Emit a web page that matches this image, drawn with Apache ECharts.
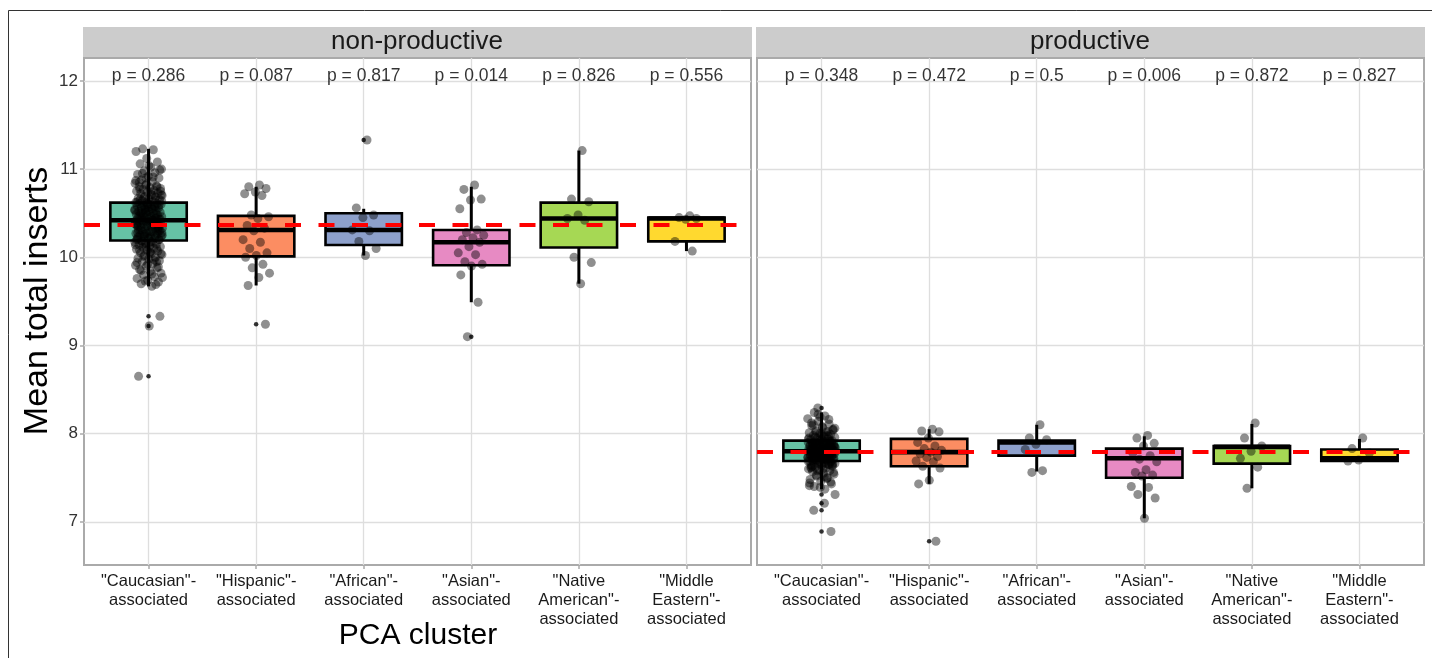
<!DOCTYPE html>
<html>
<head>
<meta charset="utf-8">
<script src="https://cdn.jsdelivr.net/npm/echarts@6/dist/echarts.min.js"></script>
<style>
  html, body { margin: 0; padding: 0; background: #ffffff; }
  #chart { width: 1432px; height: 658px; }
</style>
</head>
<body>
<div id="chart"></div>
<script>
// PCA clusters shown along the x axis of both facets
const categories = [
  '"Caucasian"-\nassociated',
  '"Hispanic"-\nassociated',
  '"African"-\nassociated',
  '"Asian"-\nassociated',
  '"Native\nAmerican"-\nassociated',
  '"Middle\nEastern"-\nassociated'
];
const facets = ['non-productive', 'productive'];
const yTicks = [7, 8, 9, 10, 11, 12];
const boxColors = ['#66C2A5', '#FC8D62', '#8DA0CB', '#E78AC3', '#A6D854', '#FFD92F'];

// p-values per cluster
const pNonProductive = [0.286, 0.087, 0.817, 0.014, 0.826, 0.556];
const pProductive = [0.348, 0.472, 0.5, 0.006, 0.872, 0.827];

// overall mean (dashed reference line) per facet
const overallMean = [10.37, 7.79];

// box statistics: [lower whisker, Q1, median, Q3, upper whisker]
const boxNonProductive = [
  [9.67, 10.19, 10.42, 10.62, 11.23],
  [9.68, 10.01, 10.31, 10.47, 10.80],
  [10.02, 10.14, 10.31, 10.50, 10.55],
  [9.49, 9.91, 10.17, 10.31, 10.80],
  [9.70, 10.11, 10.44, 10.62, 11.21],
  [10.07, 10.18, 10.44, 10.45, 10.47]
];
const boxProductive = [
  [7.37, 7.69, 7.80, 7.92, 8.24],
  [7.43, 7.63, 7.79, 7.94, 8.05],
  [7.57, 7.75, 7.90, 7.92, 8.10],
  [7.04, 7.50, 7.72, 7.83, 7.97],
  [7.38, 7.66, 7.85, 7.86, 8.11],
  [7.69, 7.69, 7.72, 7.82, 7.94]
];

// outliers drawn by the boxplot: [cluster index, value]
const outliersNonProductive = [[0, 9.33], [0, 9.22], [0, 8.65], [1, 9.24], [2, 11.33], [3, 9.10]];
const outliersProductive = [[0, 8.29], [0, 7.31], [0, 7.21], [0, 7.13], [0, 6.89], [1, 6.78]];

// individual samples (mean total inserts) per cluster
const caucasianNonProductive = [
  9.67, 9.70, 9.72, 9.74, 9.76, 9.78, 9.80, 9.82, 9.84, 9.86, 9.88, 9.90, 9.91, 9.93, 9.95, 9.96, 9.98, 9.99,
  10.00, 10.02, 10.03, 10.04, 10.05, 10.07, 10.08, 10.09, 10.10, 10.11, 10.12, 10.13, 10.14, 10.15, 10.16, 10.17, 10.18,
  10.19, 10.20, 10.21, 10.21, 10.22, 10.23, 10.24, 10.24, 10.25, 10.26, 10.27, 10.27, 10.28, 10.29, 10.30, 10.30,
  10.31, 10.32, 10.32, 10.33, 10.34, 10.34, 10.35, 10.36, 10.36, 10.37, 10.38, 10.38, 10.39, 10.40, 10.40, 10.41,
  10.41, 10.42, 10.42, 10.43, 10.43, 10.44, 10.44, 10.45, 10.46, 10.46, 10.47, 10.48, 10.48, 10.49, 10.50, 10.50,
  10.51, 10.52, 10.52, 10.53, 10.54, 10.54, 10.55, 10.56, 10.56, 10.57, 10.58, 10.58, 10.59, 10.60, 10.60, 10.61,
  10.61, 10.62, 10.62, 10.63, 10.64, 10.65, 10.66, 10.67, 10.68, 10.69, 10.70, 10.71, 10.72, 10.73, 10.74, 10.75,
  10.76, 10.77, 10.78, 10.79, 10.80, 10.81, 10.82, 10.84, 10.86, 10.88, 10.90, 10.92, 10.94, 10.96, 10.98, 11.00,
  11.02, 11.06, 11.08, 11.12, 11.20, 11.22, 11.23, 9.33, 9.22, 8.65,
  9.69, 9.73, 9.77, 9.81, 9.85, 9.89, 9.92, 9.94, 9.97, 10.01, 10.04, 10.06, 10.08, 10.10, 10.12, 10.14, 10.16,
  10.18, 10.20, 10.22, 10.23, 10.25, 10.26, 10.28, 10.29, 10.31, 10.33, 10.35, 10.37, 10.39, 10.41, 10.43, 10.45,
  10.47, 10.49, 10.51, 10.53, 10.55, 10.57, 10.59, 10.61, 10.63, 10.65, 10.68, 10.71, 10.74, 10.77, 10.80, 10.83,
  10.87, 10.91, 10.95, 10.99, 11.04, 10.35, 10.45, 10.55, 10.25, 10.40, 10.50, 10.30, 10.60, 10.20, 10.70, 10.15,
  10.75, 10.05, 10.85, 9.95, 10.90, 10.38, 10.42, 10.46, 10.34, 10.52, 10.28, 10.58, 10.24, 10.64, 10.18, 10.66
];
const hispanicNonProductive = [10.82, 10.80, 10.78, 10.74, 10.72, 10.70, 10.48, 10.46, 10.44, 10.36, 10.33, 10.30,
  10.20, 10.17, 10.10, 10.05, 10.02, 10.00, 9.92, 9.88, 9.82, 9.77, 9.68, 9.24];
const africanNonProductive = [11.33, 10.56, 10.48, 10.45, 10.31, 10.30, 10.18, 10.10, 10.02];
const asianNonProductive = [10.82, 10.77, 10.66, 10.65, 10.55, 10.31, 10.28, 10.25, 10.22, 10.20, 10.17, 10.12,
  10.05, 10.03, 9.95, 9.92, 9.90, 9.80, 9.49, 9.10];
const nativeNonProductive = [11.21, 10.66, 10.63, 10.48, 10.44, 10.42, 10.00, 9.94, 9.70];
const middleEastNonProductive = [10.47, 10.45, 10.44, 10.43, 10.18, 10.07];

const caucasianProductive = [
  7.37, 7.40, 7.43, 7.46, 7.48, 7.50, 7.52, 7.54, 7.55, 7.57, 7.58, 7.59, 7.60, 7.61, 7.62, 7.63, 7.64, 7.64,
  7.65, 7.66, 7.66, 7.67, 7.67, 7.68, 7.68, 7.69, 7.70, 7.70, 7.71, 7.71, 7.72, 7.72, 7.73, 7.73, 7.74, 7.74,
  7.75, 7.75, 7.76, 7.76, 7.77, 7.77, 7.78, 7.78, 7.79, 7.79, 7.80, 7.80, 7.81, 7.81, 7.82, 7.82, 7.83, 7.83,
  7.84, 7.84, 7.85, 7.85, 7.86, 7.86, 7.87, 7.87, 7.88, 7.88, 7.89, 7.89, 7.90, 7.90, 7.91, 7.91, 7.92, 7.93,
  7.93, 7.94, 7.95, 7.96, 7.97, 7.98, 7.99, 8.00, 8.01, 8.02, 8.03, 8.05, 8.07, 8.09, 8.11, 8.14, 8.17, 8.20,
  8.24, 7.78, 7.81, 7.76, 7.84, 7.74, 7.86, 7.72, 7.88, 7.80, 7.79, 7.82, 7.70, 7.90, 7.66, 7.94, 7.62, 7.97,
  8.29, 7.31, 7.21, 7.13, 6.89,
  7.39, 7.44, 7.49, 7.53, 7.56, 7.60, 7.63, 7.65, 7.67, 7.69, 7.71, 7.73, 7.75, 7.77, 7.79, 7.81, 7.83, 7.85,
  7.87, 7.89, 7.91, 7.93, 7.95, 7.98, 8.01, 8.04, 8.08, 8.12, 8.16, 8.22, 7.80, 7.82, 7.78, 7.84, 7.76, 7.86,
  7.74, 7.88, 7.72, 7.90, 7.70, 7.92, 7.68, 7.94, 7.66, 7.96, 7.64, 7.99, 7.61, 8.02, 7.58, 8.06, 7.51, 8.10,
  7.45, 8.19, 7.41, 7.80, 7.79, 7.81, 7.77, 7.83, 7.75, 7.85, 7.73, 7.87, 7.71, 7.89
];
const hispanicProductive = [8.05, 8.03, 8.02, 7.95, 7.90, 7.86, 7.83, 7.81, 7.79, 7.77, 7.74, 7.73, 7.69, 7.68,
  7.63, 7.61, 7.47, 7.43, 6.78];
const africanProductive = [8.10, 7.95, 7.93, 7.88, 7.82, 7.58, 7.56];
const asianProductive = [7.98, 7.95, 7.89, 7.86, 7.78, 7.75, 7.71, 7.68, 7.59, 7.56, 7.53, 7.52, 7.40, 7.39,
  7.31, 7.27, 7.04];
const nativeProductive = [8.12, 7.95, 7.86, 7.80, 7.72, 7.62, 7.38];
const middleEastProductive = [7.95, 7.83, 7.78, 7.70, 7.69];

const samplesNonProductive = [caucasianNonProductive, hispanicNonProductive, africanNonProductive,
  asianNonProductive, nativeNonProductive, middleEastNonProductive];
const samplesProductive = [caucasianProductive, hispanicProductive, africanProductive,
  asianProductive, nativeProductive, middleEastProductive];

const FONT = '"Liberation Sans", Arial, Helvetica, sans-serif';
const BOX_HALF = 0.355;      // half box width in category units
const JITTER = 0.13;         // half jitter spread in category units
const WHISKER_W = 3;         // whisker thickness in px

// low-discrepancy horizontal spread for the jittered points
function jitterOffset(i) {
  return (((i + 1) * 0.6180339887) % 1 - 0.5) * 2 * JITTER;
}

function renderBox(params, api) {
  const x = api.value(0);
  const lo = api.coord([x, api.value(1)]);
  const q1 = api.coord([x, api.value(2)]);
  const medL = api.coord([x - BOX_HALF, api.value(3)]);
  const medR = api.coord([x + BOX_HALF, api.value(3)]);
  const q3 = api.coord([x, api.value(4)]);
  const hi = api.coord([x, api.value(5)]);
  const left = medL[0], right = medR[0];
  const cx = hi[0];
  return {
    type: 'group',
    children: [
      { type: 'rect', z2: 1,
        shape: { x: cx - WHISKER_W / 2, y: hi[1], width: WHISKER_W, height: Math.max(0, q3[1] - hi[1]) },
        style: { fill: '#000000' } },
      { type: 'rect', z2: 1,
        shape: { x: cx - WHISKER_W / 2, y: q1[1], width: WHISKER_W, height: Math.max(0, lo[1] - q1[1]) },
        style: { fill: '#000000' } },
      { type: 'rect', z2: 2,
        shape: { x: left, y: q3[1], width: right - left, height: q1[1] - q3[1] },
        style: { fill: boxColors[params.dataIndex], stroke: '#000000', lineWidth: 2.6 } },
      { type: 'rect', z2: 3,
        shape: { x: left, y: medL[1] - 2.3, width: right - left, height: 4.6 },
        style: { fill: '#000000' } }
    ]
  };
}

const grids = [
  { left: 84, top: 58, width: 667, height: 507 },
  { left: 757, top: 58, width: 667, height: 507 }
];

const xAxes = [], yAxes = [], series = [];
const boxSets = [boxNonProductive, boxProductive];
const outlierSets = [outliersNonProductive, outliersProductive];
const sampleSets = [samplesNonProductive, samplesProductive];
const pSets = [pNonProductive, pProductive];

for (let k = 0; k < 2; k++) {
  xAxes.push({
    type: 'value', gridIndex: k, min: 0.4, max: 6.6,
    axisLine: { show: false },
    splitLine: { show: false },
    axisTick: { show: true, customValues: [1, 2, 3, 4, 5, 6], length: 4,
      lineStyle: { color: '#aaaaaa', width: 1.5 } },
    axisLabel: {
      customValues: [1, 2, 3, 4, 5, 6],
      formatter: v => categories[Math.round(v) - 1],
      color: '#1a1a1a', fontSize: 16.5, fontFamily: FONT, lineHeight: 19, margin: 7
    }
  });
  yAxes.push({
    type: 'value', gridIndex: k, min: 6.51, max: 12.26,
    axisLine: { show: false },
    splitLine: { show: false },
    axisTick: { show: k === 0, customValues: yTicks, length: 4,
      lineStyle: { color: '#aaaaaa', width: 1.5 } },
    axisLabel: { show: k === 0, customValues: yTicks, color: '#333333', fontSize: 17,
      fontFamily: FONT, margin: 6 }
  });

  // panel grid lines
  series.push({
    type: 'scatter', xAxisIndex: k, yAxisIndex: k, data: [], z: 1, silent: true,
    markLine: {
      z: 1, silent: true, symbol: 'none', label: { show: false }, animation: false,
      lineStyle: { color: '#dedede', width: 1.3, type: 'solid' },
      emphasis: { disabled: true },
      data: yTicks.map(v => ({ yAxis: v })).concat([1, 2, 3, 4, 5, 6].map(v => ({ xAxis: v })))
    }
  });

  // boxes
  series.push({
    type: 'custom', xAxisIndex: k, yAxisIndex: k, z: 10, silent: true,
    renderItem: renderBox,
    data: boxSets[k].map((b, i) => [i + 1].concat(b))
  });

  // jittered samples
  const pts = [];
  sampleSets[k].forEach((vals, g) => {
    vals.forEach((v, i) => pts.push([g + 1 + jitterOffset(i), v]));
  });
  series.push({
    type: 'scatter', xAxisIndex: k, yAxisIndex: k, z: 11, silent: true,
    symbolSize: 9, itemStyle: { color: 'rgba(0,0,0,0.55)' },
    data: pts
  });

  // boxplot outliers
  series.push({
    type: 'scatter', xAxisIndex: k, yAxisIndex: k, z: 11, silent: true,
    symbolSize: 4.5, itemStyle: { color: '#000' },
    data: outlierSets[k].map(o => [o[0] + 1, o[1]])
  });

  // overall mean
  series.push({
    type: 'scatter', xAxisIndex: k, yAxisIndex: k, data: [], z: 12, silent: true,
    markLine: {
      z: 12, silent: true, symbol: 'none', label: { show: false }, animation: false,
      emphasis: { disabled: true },
      lineStyle: { color: '#ff0000', width: 4, type: [16, 17.5] },
      data: [{ yAxis: overallMean[k] }]
    }
  });

  // p-value labels
  series.push({
    type: 'scatter', xAxisIndex: k, yAxisIndex: k, z: 13, silent: true,
    symbolSize: 0,
    label: {
      show: true, position: 'inside', color: '#000', fontSize: 17.5, fontFamily: FONT,
      formatter: p => 'p = ' + pSets[k][p.dataIndex]
    },
    data: pSets[k].map((p, i) => [i + 1, 12.05])
  });
}

const chart = echarts.init(document.getElementById('chart'), null, { renderer: 'canvas' });
chart.setOption({
  animation: false,
  backgroundColor: '#ffffff',
  grid: grids.map(g => Object.assign({ show: true, borderColor: '#aaaaaa', borderWidth: 2,
    backgroundColor: 'transparent', containLabel: false, outerBoundsMode: 'none' }, g)),
  xAxis: xAxes,
  yAxis: yAxes,
  series: series,
  graphic: [
    { type: 'rect', shape: { x: 8.5, y: 10.5, width: 1440, height: 700 },
      style: { fill: 'none', stroke: '#333333', lineWidth: 1 }, silent: true, z: 0 },
    { type: 'rect', shape: { x: 83, y: 27, width: 669, height: 30 },
      style: { fill: '#cccccc' }, silent: true },
    { type: 'rect', shape: { x: 756, y: 27, width: 669, height: 30 },
      style: { fill: '#cccccc' }, silent: true },
    { type: 'text', x: 417, y: 42, silent: true,
      style: { text: facets[0], fontSize: 26, fontFamily: FONT, fill: '#1a1a1a',
        textAlign: 'center', textVerticalAlign: 'middle' } },
    { type: 'text', x: 1090, y: 42, silent: true,
      style: { text: facets[1], fontSize: 26, fontFamily: FONT, fill: '#1a1a1a',
        textAlign: 'center', textVerticalAlign: 'middle' } },
    { type: 'text', x: 38, y: 301, rotation: Math.PI / 2, silent: true,
      style: { text: 'Mean total inserts', fontSize: 34, fontFamily: FONT, fill: '#000000',
        textAlign: 'center', textVerticalAlign: 'middle' } },
    { type: 'text', x: 418, y: 636, silent: true,
      style: { text: 'PCA cluster', fontSize: 30, fontFamily: FONT, fill: '#000000',
        textAlign: 'center', textVerticalAlign: 'middle' } }
  ]
});
</script>
</body>
</html>
